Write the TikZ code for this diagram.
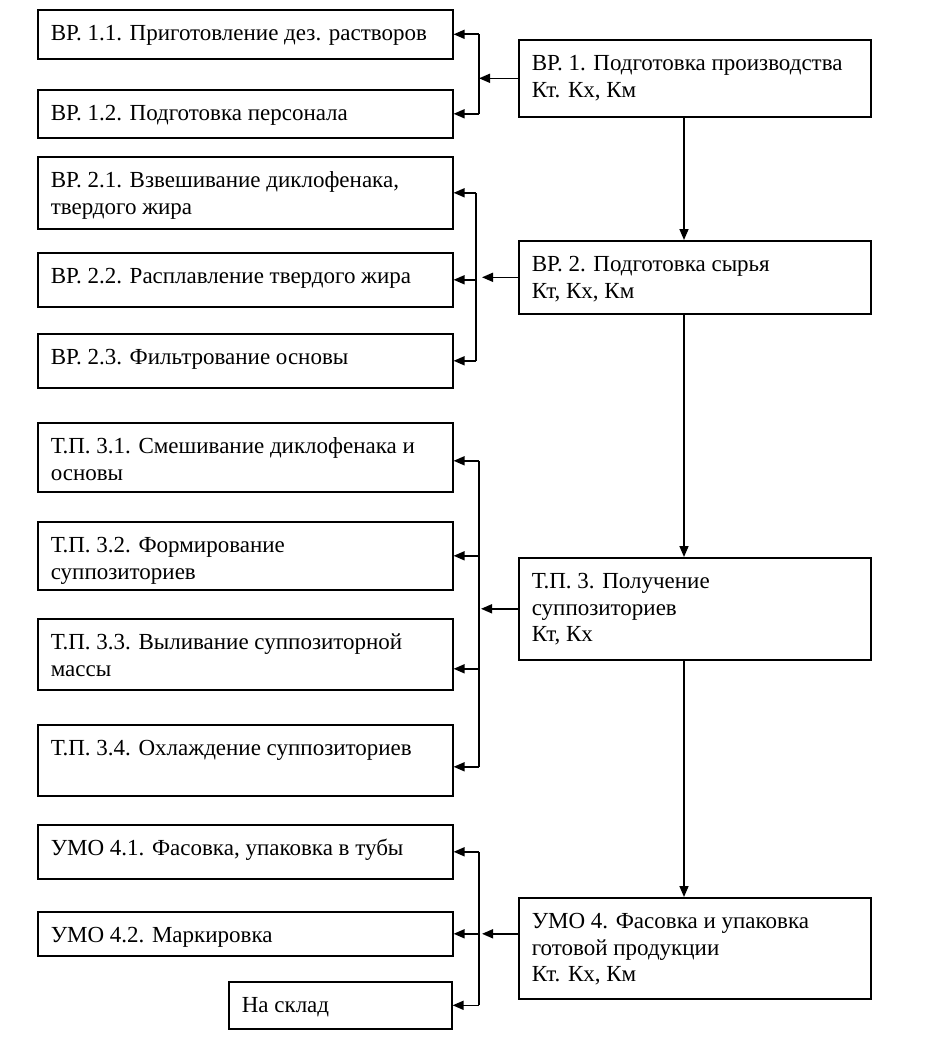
\documentclass[tikz,border=0pt]{standalone}
\usepackage{fontspec}
\setmainfont{Liberation Serif}
\usetikzlibrary{arrows.meta}
\newcommand\bxt[3]{\parbox[c][#2pt][t]{#1pt}{\raggedright\leftskip=13pt\relax\rule{0pt}{31pt}#3}}
\tikzset{
  box/.style={draw, line width=1.6pt, anchor=north west, inner sep=0pt,
    font=\fontsize{23}{26.5}\selectfont},
  conn/.style={line width=1.6pt},
  arr/.style={conn, -{Triangle[length=11pt,width=9pt]}}
}
\begin{document}
\begin{tikzpicture}[x=1pt,y=-1pt]
\useasboundingbox (0,0) rectangle (926,1041);
% right column
\node[box] (b1) at (518,39) {\bxt{352}{77}{ВР. 1. Подготовка производства\\Кт. Кх, Км}};
\node[box] (b2) at (518,240) {\bxt{352}{73}{ВР. 2. Подготовка сырья\\Кт, Кх, Км}};
\node[box] (b3) at (518,557) {\bxt{352}{102}{Т.П. 3. Получение\\суппозиториев\\Кт, Кх}};
\node[box] (b4) at (518,897) {\bxt{352}{101}{УМО 4. Фасовка и упаковка\\готовой продукции\\Кт. Кх, Км}};
% left column
\node[box] (b11) at (37,9) {\bxt{415}{49}{ВР. 1.1. Приготовление дез. растворов}};
\node[box] (b12) at (37,89) {\bxt{415}{48}{ВР. 1.2. Подготовка персонала}};
\node[box] (b21) at (37,156) {\bxt{415}{72}{ВР. 2.1. Взвешивание диклофенака,\\твердого жира}};
\node[box] (b22) at (37,252) {\bxt{415}{54}{ВР. 2.2. Расплавление твердого жира}};
\node[box] (b23) at (37,333) {\bxt{415}{54}{ВР. 2.3. Фильтрование основы}};
\node[box] (b31) at (37,422) {\bxt{415}{69}{Т.П. 3.1. Смешивание диклофенака и\\основы}};
\node[box] (b32) at (37,521) {\bxt{415}{68}{Т.П. 3.2. Формирование\\суппозиториев}};
\node[box] (b33) at (37,618) {\bxt{415}{71}{Т.П. 3.3. Выливание суппозиторной\\массы}};
\node[box] (b34) at (37,724) {\bxt{415}{71}{Т.П. 3.4. Охлаждение суппозиториев}};
\node[box] (b41) at (37,824) {\bxt{415}{54}{УМО 4.1. Фасовка, упаковка в тубы}};
\node[box] (b42) at (37,911) {\bxt{415}{44}{УМО 4.2. Маркировка}};
\node[box] (b43) at (228,981) {\bxt{223}{47}{На склад}};
% junction coordinates
\coordinate (v) at (684,0);
\coordinate (j1) at (479,0);
\coordinate (j2) at (476,0);
\coordinate (j3) at (479,0);
\coordinate (j4) at (479,0);
% vertical main arrows
\draw[arr] (b1.south -| v) -- (b2.north -| v);
\draw[arr] (b2.south -| v) -- (b3.north -| v);
\draw[arr] (b3.south -| v) -- (b4.north -| v);
% group 1
\draw[conn] (b11.east -| j1) -- (b12.east -| j1);
\draw[arr] (b11.east -| j1) -- (b11.east);
\draw[arr] (b12.east -| j1) -- (b12.east);
\draw[arr] (b1.west) -- (b1.west -| j1);
% group 2
\draw[conn] (b21.east -| j2) -- (b23.east -| j2);
\draw[arr] (b21.east -| j2) -- (b21.east);
\draw[arr] (b22.east -| j2) -- (b22.east);
\draw[arr] (b23.east -| j2) -- (b23.east);
\draw[arr] (b2.west) -- ([xshift=6pt]b2.west -| j2);
% group 3
\coordinate (e31) at ([yshift=-3.5pt]b31.east);
\coordinate (e33) at ([yshift=-14.5pt]b33.east);
\coordinate (e34) at ([yshift=-6.5pt]b34.east);
\draw[conn] (e31 -| j3) -- (e34 -| j3);
\draw[arr] (e31 -| j3) -- (e31);
\draw[arr] (b32.east -| j3) -- (b32.east);
\draw[arr] (e33 -| j3) -- (e33);
\draw[arr] (e34 -| j3) -- (e34);
\draw[arr] (b3.west) -- ([xshift=2pt]b3.west -| j3);
% group 4
\draw[conn] (b41.east -| j4) -- (b43.east -| j4);
\draw[arr] (b41.east -| j4) -- (b41.east);
\draw[arr] (b42.east -| j4) -- (b42.east);
\draw[arr] (b43.east -| j4) -- (b43.east);
\draw[arr] (b4.west |- b42.east) -- ([xshift=3pt]b42.east -| j4);
\end{tikzpicture}
\end{document}
